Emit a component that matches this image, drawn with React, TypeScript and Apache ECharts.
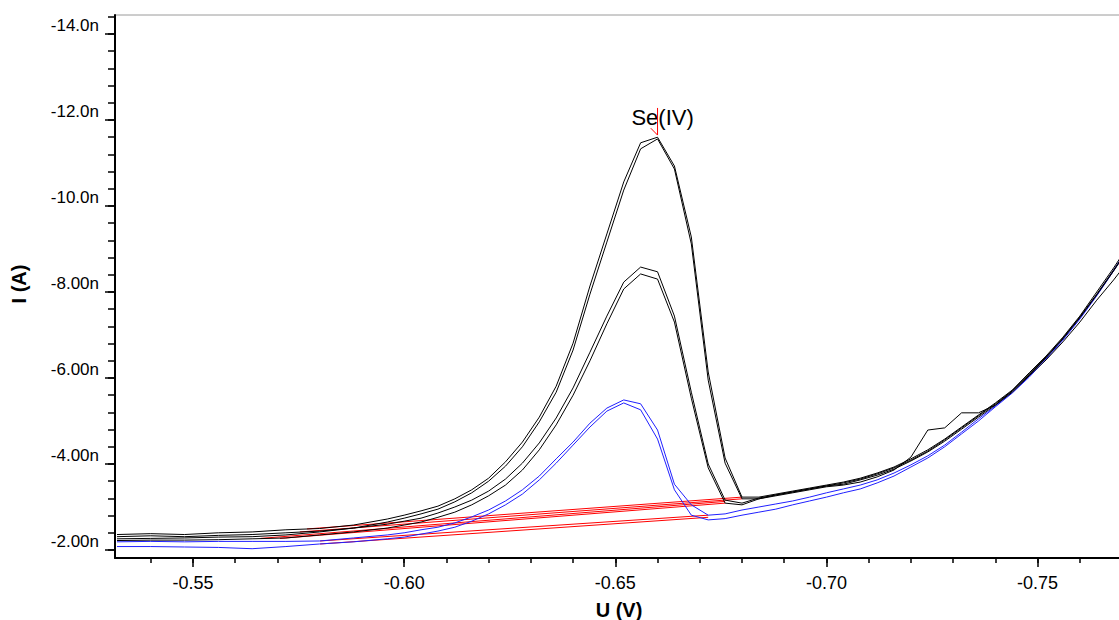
import React, { useEffect, useRef } from "react";
import * as echarts from "echarts";

// Potential U (V)
const U = [
  -0.532, -0.54, -0.548, -0.556, -0.564, -0.572, -0.58, -0.588, -0.596,
  -0.6, -0.604, -0.608, -0.612, -0.616, -0.62, -0.624, -0.628, -0.632, -0.636, -0.64, -0.644, -0.648,
  -0.652, -0.656, -0.66, -0.664, -0.668, -0.672, -0.676, -0.68, -0.684, -0.688, -0.692, -0.696, -0.7,
  -0.704, -0.708, -0.712, -0.716, -0.72, -0.724, -0.728, -0.732, -0.736, -0.74, -0.744, -0.748,
  -0.752, -0.756, -0.76, -0.764, -0.768, -0.772,
];

// Currents in nA
const A_OUTER = [
  -2.36, -2.38, -2.36, -2.4, -2.42, -2.47, -2.5, -2.58, -2.72,
  -2.81, -2.91, -3.02, -3.19, -3.4, -3.67, -4.05, -4.51, -5.09, -5.81, -6.81, -8.14, -9.35,
  -10.56, -11.47, -11.6, -10.93, -9.28, -6.14, -4.14, -3.23, -3.23, -3.3, -3.37, -3.44, -3.51,
  -3.58, -3.67, -3.79, -3.93, -4.12, -4.33, -4.58, -4.86, -5.14, -5.42, -5.72, -6.12,
  -6.51, -6.95, -7.44, -8.0, -8.56, -9.16,
];
const A_INNER = [
  -2.31, -2.33, -2.31, -2.34, -2.36, -2.4, -2.44, -2.51, -2.65,
  -2.74, -2.84, -2.95, -3.12, -3.33, -3.6, -3.95, -4.4, -4.98, -5.67, -6.65, -7.95, -9.16,
  -10.37, -11.33, -11.56, -10.86, -9.12, -5.95, -4.02, -3.19, -3.19, -3.28, -3.35, -3.42, -3.49,
  -3.56, -3.65, -3.77, -3.91, -4.09, -4.3, -4.56, -4.84, -5.12, -5.4, -5.7, -6.09,
  -6.49, -6.93, -7.42, -7.95, -8.51, -9.09,
];
const B_OUTER = [
  -2.26, -2.27, -2.28, -2.3, -2.31, -2.35, -2.42, -2.51, -2.6,
  -2.67, -2.74, -2.86, -3.0, -3.16, -3.37, -3.65, -4.02, -4.49, -5.07, -5.77, -6.6, -7.44,
  -8.23, -8.58, -8.47, -7.44, -5.67, -4.0, -3.16, -3.09, -3.21, -3.28, -3.35, -3.42, -3.49,
  -3.53, -3.63, -3.74, -3.88, -4.07, -4.28, -4.53, -4.81, -5.09, -5.37, -5.7, -6.07,
  -6.47, -6.91, -7.4, -7.93, -8.49, -9.07,
];
const B_INNER = [
  -2.22, -2.23, -2.23, -2.24, -2.26, -2.28, -2.35, -2.42, -2.51,
  -2.58, -2.65, -2.76, -2.88, -3.05, -3.26, -3.51, -3.86, -4.33, -4.91, -5.6, -6.4, -7.26,
  -8.07, -8.42, -8.3, -7.3, -5.53, -3.91, -3.09, -3.05, -3.19, -3.26, -3.33, -3.4, -3.47,
  -3.51, -3.58, -3.7, -3.86, -4.16, -4.79, -4.84, -5.19, -5.19, -5.37, -5.67, -6.05,
  -6.42, -6.84, -7.3, -7.81, -8.28, -8.79,
];
const BLUE_OUTER = [
  -2.19, -2.2, -2.19, -2.2, -2.2, -2.2, -2.21, -2.28, -2.35,
  -2.4, -2.47, -2.53, -2.63, -2.77, -2.93, -3.14, -3.4, -3.72, -4.12, -4.51, -4.95, -5.3,
  -5.49, -5.4, -4.79, -3.53, -3.05, -2.81, -2.84, -2.93, -3.0, -3.07, -3.14, -3.23, -3.33,
  -3.42, -3.51, -3.63, -3.79, -3.98, -4.19, -4.44, -4.74, -5.05, -5.35, -5.67, -6.05,
  -6.47, -6.91, -7.4, -7.93, -8.51, -9.12,
];
const BLUE_INNER = [
  -2.08, -2.08, -2.07, -2.06, -2.03, -2.08, -2.14, -2.19, -2.26,
  -2.3, -2.37, -2.44, -2.53, -2.67, -2.84, -3.05, -3.3, -3.63, -4.02, -4.44, -4.86, -5.23,
  -5.42, -5.26, -4.58, -3.4, -2.81, -2.7, -2.73, -2.81, -2.88, -2.95, -3.05, -3.14, -3.23,
  -3.33, -3.42, -3.56, -3.72, -3.93, -4.14, -4.4, -4.7, -5.0, -5.33, -5.65, -6.02,
  -6.44, -6.88, -7.37, -7.91, -8.49, -9.09,
];

// Baselines [U, I] start -> end
const BASE_A_OUTER = [[-0.577, -2.49], [-0.68, -3.23]];
const BASE_A_INNER = [[-0.5753, -2.42], [-0.68, -3.19]];
const BASE_B_OUTER = [[-0.566, -2.27], [-0.676, -3.13]];
const BASE_B_INNER = [[-0.5706, -2.27], [-0.676, -3.09]];
const BASE_BLUE_OUTER = [[-0.5801, -2.21], [-0.672, -2.81]];
const BASE_BLUE_INNER = [[-0.5801, -2.14], [-0.672, -2.76]];

// Peak marker and label (label anchored at its bottom)
const PEAK_MARK = [[-0.6584, -11.81], [-0.66, -11.65], [-0.66, -12.28]];
const PEAK_LABEL = { u: -0.6612, i: -11.79, text: "Se(IV)" };

// Axes
const X_TICKS = [-0.55, -0.6, -0.65, -0.7, -0.75];
const X_LABELS = ["-0.55", "-0.60", "-0.65", "-0.70", "-0.75"];
const X_MINOR = [
  -0.54, -0.55, -0.56, -0.57, -0.58, -0.59, -0.6, -0.61, -0.62, -0.63, -0.64, -0.65,
  -0.66, -0.67, -0.68, -0.69, -0.7, -0.71, -0.72, -0.73, -0.74, -0.75, -0.76, -0.77,
];
const Y_TICKS = [-14, -12, -10, -8, -6, -4, -2];
const Y_LABELS = ["-14.0n", "-12.0n", "-10.0n", "-8.00n", "-6.00n", "-4.00n", "-2.00n"];
const Y_MINOR = [
  -14.4, -14.0, -13.6, -13.2, -12.8, -12.4, -12.0, -11.6, -11.2, -10.8, -10.4, -10.0,
  -9.6, -9.2, -8.8, -8.4, -8.0, -7.6, -7.2, -6.8, -6.4, -6.0, -5.6, -5.2, -4.8, -4.4,
  -4.0, -3.6, -3.2, -2.8, -2.4, -2.0,
];
const X_MIN = -0.77401;
const X_MAX = -0.53153;
const Y_MIN = -14.442;
const Y_MAX = -1.814;

const FONT = "'Liberation Sans', Arial, Helvetica, sans-serif";

function pairs(xs: number[], ys: number[]) {
  return xs.map((x, i) => [x, ys[i]]);
}
function lookup(vals: number[], labels: string[], v: number) {
  for (let i = 0; i < vals.length; i++) {
    if (Math.abs(vals[i] - v) < 1e-6) return labels[i];
  }
  return "";
}

export default function App() {
  const ref = useRef<HTMLDivElement>(null);
  useEffect(() => {
    if (!ref.current) return;
    const chart = echarts.init(ref.current, undefined, { renderer: "svg" });
    const BLACK = "#000000";
    const BLUE = "#2020ff";
    const RED = "#ff0000";
    const curve = (name: string, ys: number[], color: string) => ({
      name,
      type: "line",
      data: pairs(U, ys),
      showSymbol: false,
      symbol: "none",
      lineStyle: { color, width: 1 },
      itemStyle: { color },
      silent: true,
    });
    const base = (name: string, pts: number[][], z = 2) => ({
      name,
      type: "line",
      data: pts,
      showSymbol: false,
      symbol: "none",
      z,
      lineStyle: { color: RED, width: 1 },
      silent: true,
    });
    chart.setOption({
      animation: false,
      backgroundColor: "#ffffff",
      textStyle: { fontFamily: FONT },
      grid: {
        left: 115,
        right: -20,
        top: 15,
        bottom: 62,
        show: true,
        borderColor: "#9a9a9a",
        borderWidth: 1,
        containLabel: false,
        outerBoundsMode: "none",
      },
      xAxis: [
        {
          type: "value",
          min: X_MIN,
          max: X_MAX,
          inverse: true,
          position: "bottom",
          axisLine: { show: true, onZero: false, lineStyle: { color: BLACK, width: 2 } },
          axisTick: { show: true, customValues: X_TICKS, length: 9, lineStyle: { color: BLACK, width: 1.5 } },
          axisLabel: {
            show: true,
            customValues: X_TICKS,
            formatter: (v: number) => lookup(X_TICKS, X_LABELS, v),
            margin: 16,
            fontSize: 18,
            color: BLACK,
            fontFamily: FONT,
          },
          splitLine: { show: false },
        },
        {
          type: "value",
          min: X_MIN,
          max: X_MAX,
          inverse: true,
          position: "bottom",
          axisLine: { show: false, onZero: false },
          axisTick: { show: true, customValues: X_MINOR, length: 5, lineStyle: { color: BLACK, width: 1.5 } },
          axisLabel: { show: false },
          splitLine: { show: false },
        },
      ],
      yAxis: [
        {
          type: "value",
          min: Y_MIN,
          max: Y_MAX,
          inverse: true,
          position: "left",
          axisLine: { show: true, onZero: false, lineStyle: { color: BLACK, width: 2 } },
          axisTick: { show: true, customValues: Y_TICKS, length: 10, lineStyle: { color: BLACK, width: 1.5 } },
          axisLabel: {
            show: true,
            customValues: Y_TICKS,
            formatter: (v: number) => lookup(Y_TICKS, Y_LABELS, v),
            margin: 16,
            fontSize: 17,
            verticalAlign: "bottom",
            color: BLACK,
            fontFamily: FONT,
          },
          splitLine: { show: false },
        },
        {
          type: "value",
          min: Y_MIN,
          max: Y_MAX,
          inverse: true,
          position: "left",
          axisLine: { show: false, onZero: false },
          axisTick: { show: true, customValues: Y_MINOR, length: 7, lineStyle: { color: BLACK, width: 1.5 } },
          axisLabel: { show: false },
          splitLine: { show: false },
        },
      ],
      graphic: [
        {
          type: "text",
          x: 19,
          y: 284,
          rotation: Math.PI / 2,
          style: {
            text: "I (A)",
            fontSize: 20,
            fontWeight: "bold",
            fontFamily: FONT,
            fill: BLACK,
            textAlign: "center",
            textVerticalAlign: "middle",
          },
        },
        {
          type: "text",
          x: 619,
          y: 610,
          style: {
            text: "U (V)",
            fontSize: 20,
            fontWeight: "bold",
            fontFamily: FONT,
            fill: BLACK,
            textAlign: "center",
            textVerticalAlign: "middle",
          },
        },
      ],
      series: [
        curve("blue-outer", BLUE_OUTER, BLUE),
        curve("blue-inner", BLUE_INNER, BLUE),
        curve("a-outer", A_OUTER, BLACK),
        curve("a-inner", A_INNER, BLACK),
        curve("b-outer", B_OUTER, BLACK),
        curve("b-inner", B_INNER, BLACK),
        base("base-a-outer", BASE_A_OUTER),
        base("base-a-inner", BASE_A_INNER),
        base("base-b-outer", BASE_B_OUTER),
        base("base-b-inner", BASE_B_INNER),
        base("base-blue-outer", BASE_BLUE_OUTER),
        base("base-blue-inner", BASE_BLUE_INNER),
        {
          name: "peak-label",
          type: "line",
          data: [[PEAK_LABEL.u, PEAK_LABEL.i]],
          showSymbol: true,
          symbol: "circle",
          symbolSize: 1,
          z: 3,
          itemStyle: { color: "rgba(255,255,255,0)", opacity: 1 },
          lineStyle: { width: 0 },
          silent: true,
          label: {
            show: true,
            position: "top",
            distance: 0,
            formatter: PEAK_LABEL.text,
            fontSize: 22,
            color: "#000000",
            opacity: 1,
            textBorderWidth: 0,
            fontFamily: FONT,
          },
        },
        base("peak-mark", PEAK_MARK, 10),
      ],
    });
    return () => chart.dispose();
  }, []);
  return (
    <div
      ref={ref}
      style={{ position: "fixed", left: 0, top: 0, width: 1119, height: 620, background: "#fff" }}
    />
  );
}
